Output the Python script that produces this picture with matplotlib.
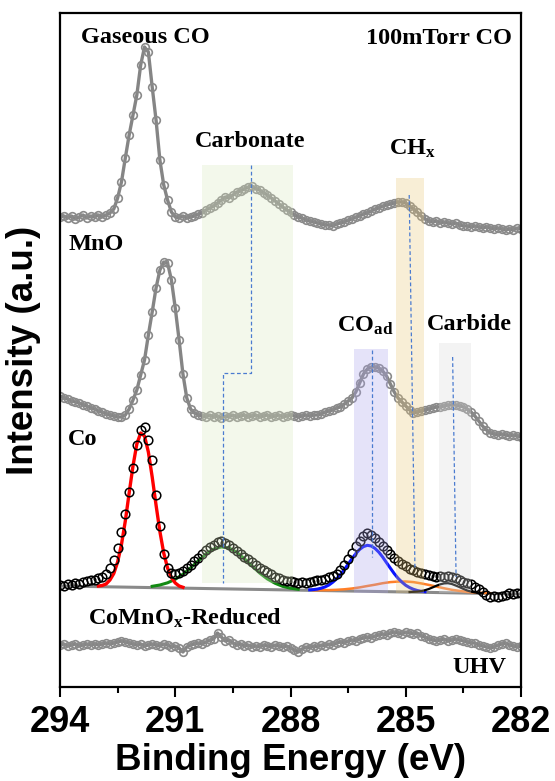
import numpy as np
import matplotlib.pyplot as plt

plt.rcParams['font.family'] = 'Liberation Sans'
plt.rcParams['mathtext.fontset'] = 'custom'
plt.rcParams['mathtext.rm'] = 'Liberation Serif:bold'
plt.rcParams['mathtext.it'] = 'Liberation Serif:bold'
plt.rcParams['mathtext.bf'] = 'Liberation Serif:bold'

# C 1s binding energy grid (eV), 0.1 eV step
energy = np.linspace(294.0, 282.0, 121)

# stacked spectra, counts in arbitrary units
gas_co = [3, 4, 2, 4, 1, 3, 5, 2, 4, 3,
          5, 3, 5, 7, 11, 22, 38, 62, 85, 105,
          125, 155, 173, 168, 133, 100, 60, 35, 20, 8,
          3, 2, 4, 2, 3, 4, 6, 7, 10, 12,
          14, 17, 20, 23, 22, 25, 28, 29, 31, 33,
          34, 31, 30, 27, 25, 22, 19, 16, 13, 10,
          8, 5, 3, 2, 0, -1, -2, -3, -4, -5,
          -5, -6, -4, -3, -2, 0, 1, 3, 4, 6,
          7, 9, 11, 12, 14, 15, 16, 17, 18, 18,
          17, 14, 11, 8, 4, 1, -1, -2, -1, -3,
          -2, -3, -4, -3, -5, -6, -6, -7, -6, -7,
          -8, -7, -8, -9, -8, -9, -10, -9, -10, -8,
          -9]
mno = [24, 22, 21, 19, 18, 17, 15, 14, 12, 11,
       9, 8, 6, 5, 4, 3, 3, 5, 11, 20,
       30, 45, 60, 85, 108, 132, 150, 158, 157, 140,
       112, 80, 46, 22, 11, 7, 5, 4, 3, 5,
       3, 4, 2, 4, 3, 5, 3, 4, 5, 3,
       4, 5, 3, 4, 5, 3, 4, 5, 3, 4,
       5, 4, 3, 4, 5, 4, 5, 5, 6, 8,
       9, 10, 12, 13, 16, 19, 22, 28, 37, 46,
       51, 53, 53, 52, 49, 44, 36, 28, 22, 18,
       14, 10, 7, 8, 9, 10, 11, 12, 13, 13,
       14, 15, 15, 15, 14, 13, 11, 8, 4, -1,
       -6, -10, -13, -14, -15, -14, -15, -16, -15, -16,
       -17]
co = [5, 4, 6, 5, 7, 6, 8, 9, 10, 10,
      12, 13, 16, 22, 30, 42, 58, 76, 98, 122,
      145, 160, 163, 150, 130, 95, 64, 36, 22, 17,
      16, 17, 19, 22, 25, 29, 32, 36, 40, 43,
      45, 48, 49, 47, 45, 42, 39, 36, 33, 31,
      28, 25, 22, 20, 18, 16, 13, 12, 10, 9,
      9, 8, 7, 8, 7, 8, 9, 10, 10, 11,
      13, 14, 16, 20, 25, 31, 37, 44, 49, 54,
      57, 55, 52, 48, 44, 40, 36, 32, 29, 26,
      24, 21, 20, 18, 17, 16, 15, 14, 13, 14,
      13, 14, 13, 12, 10, 8, 7, 6, 3, 1,
      -2, -5, -7, -6, -7, -6, -5, -3, -4, -3,
      -3]
uhv = [0, 1, -1, 0, 1, -1, 0, 1, 0, 1,
       0, 1, 2, 1, 2, 3, 4, 3, 2, 1,
       0, 1, -1, 0, 1, 0, -1, 1, 0, -2,
       -1, -3, -7, -2, 0, 1, 2, 1, 3, 5,
       6, 12, 8, 4, 5, 2, 0, 1, -1, 0,
       -2, -1, -2, 0, -1, -2, 0, -1, -2, -1,
       -3, -5, -7, -4, -2, -3, -1, -2, 0, -1,
       1, 0, 2, 3, 2, 4, 5, 4, 6, 7,
       8, 7, 9, 10, 11, 10, 12, 13, 12, 11,
       13, 12, 11, 12, 9, 8, 6, 5, 4, 5,
       6, 4, 5, 6, 5, 4, 3, 2, 2, 0,
       -1, -2, -3, -2, 0, 1, 2, 0, -1, -2,
       -1]

# vertical stacking offsets
off_gas, off_mno, off_co, off_uhv = 467, 267, 97, 42

# fitted components of the Co spectrum (background included)
bg_energy = [294.0, 282.0]
bg_level = [4, -4]
red_energy = np.linspace(293.0, 290.8, 23)
red_fit = [4, 4.5, 6, 10, 16.5, 28, 45.5, 69, 97, 124, 146, 157,
           154, 138, 113, 85, 58.5, 37, 22, 12.5, 7, 4, 2.7]
green_energy = np.linspace(291.6, 287.8, 20)
green_fit = [3.7, 5.0, 7.2, 10.7, 15.8, 22.1, 29.2, 36.0, 40.9, 43.1,
             42.0, 37.7, 31.3, 24.0, 16.9, 11.0, 6.7, 3.6, 1.8, 0.7]
blue_energy = np.linspace(287.5, 284.5, 31)
blue_fit = [0.2, 0.4, 0.9, 1.8, 3.1, 5.0, 7.8, 11.2, 15.4, 20.4, 25.8,
            31.2, 36.4, 40.6, 43.4, 44.7, 44.0, 41.6, 37.8, 32.9, 27.3,
            21.8, 16.4, 11.7, 7.9, 4.7, 2.4, 0.7, -0.5, -1.3, -1.7]
orange_energy = np.linspace(287.4, 282.8, 24)
orange_fit = [-0.3, -0.2, -0.1, 0.2, 0.7, 1.5, 2.6, 4.0, 5.3, 6.8, 7.9, 8.4,
              8.5, 7.9, 6.6, 5.1, 3.4, 1.7, 0.2, -0.9, -1.9, -2.5, -2.9, -3.3]
black_energy = np.linspace(284.9, 283.0, 20)
black_fit = [-2.0, -1.8, -1.6, -1.1, -0.2, 1.0, 2.6, 4.3, 5.7, 6.6,
             6.8, 6.0, 4.5, 2.9, 1.1, -0.5, -1.6, -2.4, -2.9, -3.1]

# highlighted regions: (low eV, high eV, bottom, top, colour)
bands = [(287.93, 290.31, 104, 522, '#dae8c0'),
         (284.52, 285.26, 94, 509, '#e8c77a'),
         (285.47, 286.35, 94, 338, '#aca5ee'),
         (283.31, 284.13, 94, 344, '#d8d8d8')]
# peak position guides linking spectra
guides = [([289.04, 289.04, 289.75, 289.75], [522, 314, 314, 104]),
          ([284.91, 284.76], [492, 117]),
          ([285.89, 285.89], [337, 130]),
          ([283.78, 283.69], [330, 110])]

fig = plt.figure(figsize=(5.55, 7.81), dpi=100)
ax = fig.add_axes([60 / 555, 94 / 781, 461 / 555, 674 / 781])

grey = dict(color='#858585', lw=2.4, marker='o', ms=5.5, mfc='none',
            mec='#8a8a8a', mew=1.2, zorder=2)
ax.plot(energy, np.array(gas_co) + off_gas, **grey)
ax.plot(energy, np.array(mno) + off_mno, **grey)
ax.plot(energy, np.array(uhv) + off_uhv, **grey)

ax.plot(bg_energy, np.array(bg_level) + off_co, color='#8a8a8a', lw=2.2, zorder=2)
ax.plot(orange_energy, np.array(orange_fit) + off_co, color='#ff7f27', lw=1.8, zorder=2)
ax.plot(green_energy, np.array(green_fit) + off_co, color='#138a13', lw=2.2, zorder=2)
ax.plot(blue_energy, np.array(blue_fit) + off_co, color='#0a14ff', lw=2.2, zorder=2)
ax.plot(black_energy, np.array(black_fit) + off_co, color='black', lw=1.6, zorder=2)
ax.plot(red_energy, np.array(red_fit) + off_co, color='#ff0000', lw=2.4, zorder=2)
ax.plot(energy, np.array(co) + off_co, ls='none', marker='o', ms=6.2,
        mfc='none', mec='black', mew=1.1, zorder=2.5)

for lo, hi, y0, y1, c in bands:
    ax.fill_between([lo, hi], y0, y1, color=c, alpha=0.3, lw=0, zorder=3)
for gx, gy in guides:
    ax.plot(gx, gy, color='#4a7bd0', lw=0.9, ls=(0, (3, 2)), zorder=4)

lab = dict(family='Liberation Serif', fontweight='bold', fontsize=17.5,
           va='baseline', zorder=6)
ax.text(291.79, 644, 'Gaseous CO', ha='center', **lab)
ax.text(282.23, 643, '100mTorr CO', ha='right', **lab)
ax.text(289.05, 540, 'Carbonate', ha='center', **lab)
ax.text(285.44, 532, 'CH$_{\\mathrm{x}}$', ha='left', **lab)
ax.text(293.79, 437, 'MnO', ha='left', **lab)
ax.text(286.79, 355, 'CO$_{\\mathrm{ad}}$', ha='left', **lab)
ax.text(284.45, 357, 'Carbide', ha='left', **lab)
ax.text(293.79, 242, 'Co', ha='left', **lab)
ax.text(293.27, 62, 'CoMnO$_{\\mathrm{x}}$-Reduced', ha='left', **lab)
ax.text(282.39, 14, 'UHV', ha='right', **lab)

ax.set_xlim(294, 282)
ax.set_ylim(0, 674)
ax.set_xticks([294, 291, 288, 285, 282])
ax.set_xticks([292.5, 289.5, 286.5, 283.5], minor=True)
ax.set_yticks([])
ax.tick_params(axis='x', which='major', direction='out', length=7.2, width=1.5,
               pad=6, labelsize=26)
ax.tick_params(axis='x', which='minor', direction='out', length=4.3, width=1.5)
for t in ax.get_xticklabels():
    t.set_fontweight('bold')
for s in ax.spines.values():
    s.set_linewidth(1.6)

ax.set_xlabel('Binding Energy (eV)', fontsize=26.5, fontweight='bold', labelpad=2)
ax.set_ylabel('Intensity (a.u.)', fontsize=26.5, fontweight='bold', labelpad=14)

fig.savefig('out.png', dpi=100)
